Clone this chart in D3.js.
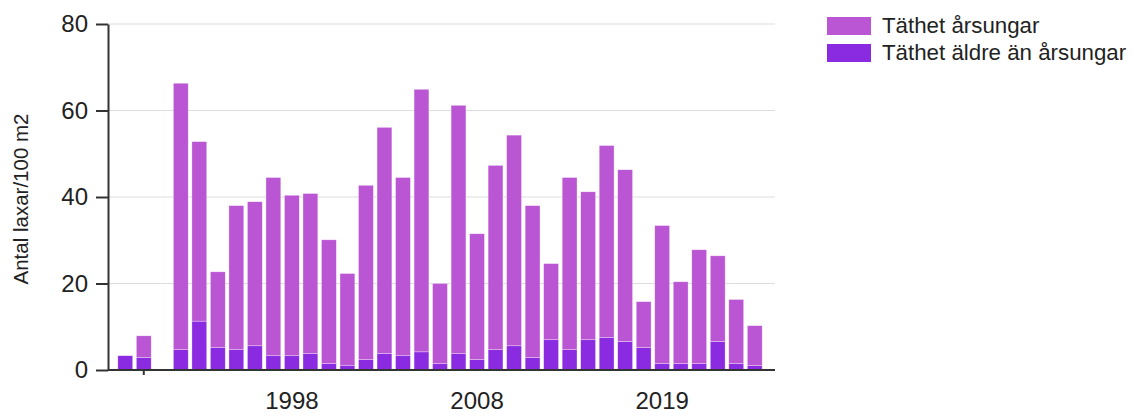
<!DOCTYPE html>
<html>
<head>
<meta charset="utf-8">
<script src="https://cdn.jsdelivr.net/npm/d3@7"></script>
<style>
  body { margin: 0; background: #fff; }
  text { font-family: "Liberation Sans", Arial, sans-serif; fill: #222; }
</style>
</head>
<body>
<div id="chart"></div>
<script>
// år (1991 saknas, 2018 ingen kategori)
const years = ["1989", "1990", "1991", "1992", "1993", "1994", "1995", "1996", "1997", "1998",
  "1999", "2000", "2001", "2002", "2003", "2004", "2005", "2006", "2007", "2008",
  "2009", "2010", "2011", "2012", "2013", "2014", "2015", "2016", "2017", "2019",
  "2020", "2021", "2022", "2023", "2024"];

// Täthet äldre än årsungar (mörk, nederst)
const aldre = [3.3, 2.9, null, 4.7, 11.3, 5.2, 4.7, 5.6, 3.3, 3.3,
  3.8, 1.5, 1.1, 2.4, 3.8, 3.3, 4.2, 1.5, 3.8, 2.4,
  4.7, 5.6, 2.9, 7.0, 4.7, 7.0, 7.5, 6.6, 5.2, 1.5,
  1.5, 1.5, 6.6, 1.5, 1.0];

// Täthet årsungar (ljus, ovanpå)
const arsungar = [0, 5.0, null, 61.6, 41.5, 17.5, 33.3, 33.3, 41.2, 37.1,
  37.0, 28.6, 21.2, 40.3, 52.3, 41.2, 60.7, 18.5, 57.4, 29.1,
  42.6, 48.7, 35.1, 17.6, 39.8, 34.2, 44.4, 39.7, 10.6, 31.9,
  18.9, 26.3, 19.8, 14.8, 9.25];

const yTicks = [0, 20, 40, 60, 80];
const xLabels = ["1998", "2008", "2019"];
const seriesNames = ["Täthet årsungar", "Täthet äldre än årsungar"];
const colors = ["#ba55d3", "#8a2be2"];

const width = 1133;
const height = 419;
const margin = { left: 108, right: 775, top: 24, bottom: 370 };

const svg = d3.select("#chart").append("svg")
  .attr("width", width)
  .attr("height", height);

const x = d3.scaleBand()
  .domain(years)
  .range([116, 764])
  .paddingInner(0.2)
  .paddingOuter(0.1);

const y = d3.scaleLinear().domain([0, 80]).range([margin.bottom, margin.top]);

// rutnät
svg.append("g")
  .selectAll("line")
  .data(yTicks.filter(d => d > 0))
  .join("line")
  .attr("x1", margin.left).attr("x2", margin.right)
  .attr("y1", d => y(d)).attr("y2", d => y(d))
  .attr("stroke", "#dddddd")
  .attr("stroke-width", 1);

// staplar
const rows = years.map((yr, i) => ({ year: yr, aldre: aldre[i] || 0, arsungar: arsungar[i] || 0 }));
const stack = d3.stack().keys(["aldre", "arsungar"])(rows);
const stackColors = [colors[1], colors[0]];

svg.append("g")
  .selectAll("g")
  .data(stack)
  .join("g")
  .attr("fill", (d, i) => stackColors[i])
  .selectAll("rect")
  .data(d => d)
  .join("rect")
  .attr("x", d => x(d.data.year))
  .attr("width", x.bandwidth())
  .attr("y", d => y(d[1]))
  .attr("height", d => y(d[0]) - y(d[1]))
  .attr("stroke", "#ffffff")
  .attr("stroke-opacity", 0.5)
  .attr("stroke-width", 0.6);

// y-axel
const yAxis = svg.append("g")
  .attr("transform", `translate(${margin.left},0)`)
  .call(d3.axisLeft(y).tickValues(yTicks).tickSize(12).tickPadding(8).tickSizeOuter(0));
yAxis.select(".domain").attr("stroke", "#333").attr("stroke-width", 2);
yAxis.selectAll(".tick line").attr("stroke", "#333").attr("stroke-width", 2);
yAxis.selectAll("text").style("font-size", "24px").attr("fill", "#222");

// x-axel
const xAxis = svg.append("g")
  .attr("transform", `translate(0,${margin.bottom})`)
  .call(d3.axisBottom(x).tickValues(xLabels).tickSize(0).tickPadding(22).tickSizeOuter(0));
xAxis.select(".domain").attr("d", `M${margin.left},0H${margin.right}`).attr("stroke", "#333").attr("stroke-width", 2);
xAxis.selectAll("text").style("font-size", "24px").attr("fill", "#222");
xAxis.append("line")
  .attr("x1", x("1990") + x.bandwidth() / 2).attr("x2", x("1990") + x.bandwidth() / 2)
  .attr("y1", 0).attr("y2", 5)
  .attr("stroke", "#333").attr("stroke-width", 2);

// y-titel
svg.append("text")
  .attr("transform", "translate(28,199) rotate(-90)")
  .attr("text-anchor", "middle")
  .style("font-size", "20.5px")
  .text("Antal laxar/100 m2");

// förklaring
const legend = svg.append("g").attr("transform", "translate(827,17)");
seriesNames.forEach((name, i) => {
  const g = legend.append("g").attr("transform", `translate(0,${i * 27})`);
  g.append("rect").attr("width", 44).attr("height", 18).attr("fill", colors[i]);
  g.append("text").attr("x", 55).attr("y", 16).style("font-size", "22.3px").text(name);
});
</script>
</body>
</html>
